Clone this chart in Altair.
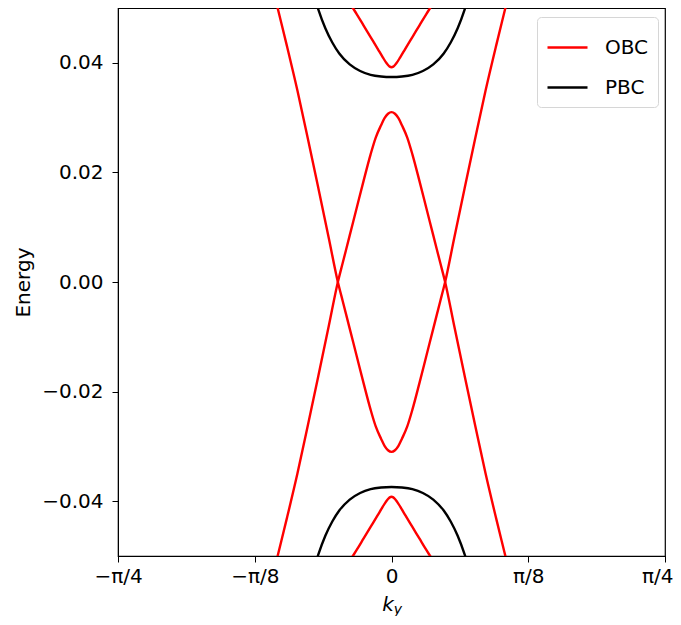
import math
import altair as alt
import pandas as pd

# ---- data ----
# edge (in-gap) OBC bands
K_EDGE = [-0.345, -0.327, -0.300, -0.270, -0.240, -0.210, -0.180, -0.154, -0.140, -0.120,
          -0.100, -0.080, -0.060, -0.045, -0.030, -0.020, -0.010, 0.000,
          0.010, 0.020, 0.030, 0.045, 0.060, 0.080, 0.100, 0.120, 0.140, 0.154,
          0.180, 0.210, 0.240, 0.270, 0.300, 0.327, 0.345]
E_EDGE_UP = [-0.0547, -0.0500, -0.0430, -0.0349, -0.0261, -0.0171, -0.0080, 0.0000, 0.0035, 0.0085,
             0.0135, 0.0185, 0.0233, 0.0264, 0.0286, 0.0299, 0.0307, 0.0310,
             0.0307, 0.0299, 0.0286, 0.0264, 0.0233, 0.0185, 0.0135, 0.0085, 0.0035, 0.0000,
             -0.0080, -0.0171, -0.0261, -0.0349, -0.0430, -0.0500, -0.0547]
E_EDGE_DN = [0.0547, 0.0500, 0.0430, 0.0349, 0.0261, 0.0171, 0.0080, 0.0000, -0.0035, -0.0085,
             -0.0135, -0.0185, -0.0233, -0.0264, -0.0286, -0.0299, -0.0307, -0.0310,
             -0.0307, -0.0299, -0.0286, -0.0264, -0.0233, -0.0185, -0.0135, -0.0085, -0.0035, 0.0000,
             0.0080, 0.0171, 0.0261, 0.0349, 0.0430, 0.0500, 0.0547]

# bulk OBC bands
K_BULK = [-0.125, -0.111, -0.100, -0.080, -0.060, -0.040, -0.025, -0.015, -0.010, -0.005, 0.000,
          0.005, 0.010, 0.015, 0.025, 0.040, 0.060, 0.080, 0.100, 0.111, 0.125]
E_BULK_UP = [0.0514, 0.0500, 0.0489, 0.0468, 0.0447, 0.0426, 0.0410, 0.0400, 0.0396, 0.0393, 0.0392,
             0.0393, 0.0396, 0.0400, 0.0410, 0.0426, 0.0447, 0.0468, 0.0489, 0.0500, 0.0514]
E_BULK_DN = [-0.0514, -0.0500, -0.0489, -0.0468, -0.0447, -0.0426, -0.0410, -0.0400, -0.0396, -0.0393, -0.0392,
             -0.0393, -0.0396, -0.0400, -0.0410, -0.0426, -0.0447, -0.0468, -0.0489, -0.0500, -0.0514]

# PBC bands
K_PBC = [-0.235, -0.210, -0.190, -0.170, -0.150, -0.120, -0.090, -0.060, -0.030, 0.000,
         0.030, 0.060, 0.090, 0.120, 0.150, 0.170, 0.190, 0.210, 0.235]
E_PBC_UP = [0.0552, 0.0497, 0.0463, 0.0437, 0.0417, 0.0397, 0.0385, 0.0378, 0.0375, 0.0374,
            0.0375, 0.0378, 0.0385, 0.0397, 0.0417, 0.0437, 0.0463, 0.0497, 0.0552]
E_PBC_DN = [-0.0552, -0.0497, -0.0463, -0.0437, -0.0417, -0.0397, -0.0385, -0.0378, -0.0375, -0.0374,
            -0.0375, -0.0378, -0.0385, -0.0397, -0.0417, -0.0437, -0.0463, -0.0497, -0.0552]

X_TICKS = [-math.pi / 4, -math.pi / 8, 0.0, math.pi / 8, math.pi / 4]
Y_TICKS = [-0.04, -0.02, 0.0, 0.02, 0.04]

# ---- build table ----
rows = []
def add(curve, kind, ks, es):
    for i, (k, e) in enumerate(zip(ks, es)):
        rows.append({"k": k, "E": e, "curve": curve, "kind": kind, "i": i})

add("edge_up", "OBC", K_EDGE, E_EDGE_UP)
add("edge_dn", "OBC", K_EDGE, E_EDGE_DN)
add("bulk_up", "OBC", K_BULK, E_BULK_UP)
add("bulk_dn", "OBC", K_BULK, E_BULK_DN)
add("pbc_up", "PBC", K_PBC, E_PBC_UP)
add("pbc_dn", "PBC", K_PBC, E_PBC_DN)
df = pd.DataFrame(rows)

FONT = "DejaVu Sans"
FS = 20
label_expr = ("datum.value < -0.6 ? '\u2212\u03c0/4' : datum.value < -0.2 ? '\u2212\u03c0/8' : "
              "datum.value < 0.2 ? '0' : datum.value < 0.6 ? '\u03c0/8' : '\u03c0/4'")

lines = alt.Chart(df).mark_line(clip=True, strokeWidth=2.4, interpolate="monotone").encode(
    x=alt.X("k:Q",
            scale=alt.Scale(domain=[-math.pi / 4, math.pi / 4], nice=False, zero=False),
            axis=alt.Axis(values=X_TICKS, labelExpr=label_expr, title=None, grid=False,
                          labelFontSize=FS, labelFont=FONT, labelColor="black",
                          tickSize=6, tickColor="black", domainColor="black",
                          labelFlush=False, labelOverlap=False, labelBound=False,
                          labelAlign=alt.condition("datum.value > 0.7",
                                                   alt.value("right"), alt.value("center")),
                          labelOffset=alt.condition("datum.value > 0.7",
                                                    alt.value(8), alt.value(0)),
                          labelPadding=4)),
    y=alt.Y("E:Q",
            scale=alt.Scale(domain=[-0.05, 0.05], nice=False, zero=False),
            axis=alt.Axis(values=Y_TICKS, format=".2f", title="Energy", grid=False,
                          labelFontSize=FS, labelFont=FONT, labelColor="black",
                          tickSize=6, tickColor="black", domainColor="black",
                          labelPadding=9, titleFontSize=FS, titleFont=FONT,
                          titleFontWeight="normal", titleColor="black", titlePadding=8)),
    color=alt.Color("kind:N",
                    scale=alt.Scale(domain=["OBC", "PBC"], range=["#ff0000", "#000000"]),
                    legend=alt.Legend(title=None, orient="none", legendX=419, legendY=9,
                                      symbolType="stroke", symbolSize=1600,
                                      symbolStrokeWidth=2.5, labelFontSize=FS, labelFont=FONT,
                                      labelColor="black", padding=9, rowPadding=8,
                                      labelOffset=16, strokeColor="#d6d6d6",
                                      fillColor="white", cornerRadius=4)),
    detail="curve:N",
    order="i:Q",
)

k_text = alt.Chart(pd.DataFrame({"t": ["k"]})).mark_text(
    font=FONT, fontSize=FS, fontStyle="italic", align="center", baseline="alphabetic",
    color="black").encode(text="t:N", x=alt.value(270), y=alt.value(603))
y_text = alt.Chart(pd.DataFrame({"t": ["y"]})).mark_text(
    font=FONT, fontSize=14, fontStyle="italic", align="center", baseline="alphabetic",
    color="black").encode(text="t:N", x=alt.value(280), y=alt.value(606))

chart = alt.layer(lines, k_text, y_text).properties(
    width=547, height=548,
    autosize=alt.AutoSizeParams(type="none"),
    padding={"left": 110, "top": 0, "right": 8, "bottom": 60},
).configure(font=FONT).configure_view(stroke="black", strokeWidth=1.2)

chart.save("out.html", embed_options={"renderer": "svg", "actions": False})
